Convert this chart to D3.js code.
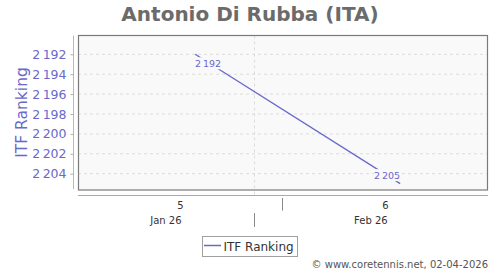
<!DOCTYPE html>
<html><head><meta charset="utf-8">
<script src="https://cdn.jsdelivr.net/npm/d3@7"></script>
<style>
html,body{margin:0;padding:0;background:#fff;}
svg{display:block;font-family:"DejaVu Sans",sans-serif;}
</style></head>
<body><svg id="chart" width="500" height="270"></svg>
<script>
const title = "Antonio Di Rubba (ITA)";
const seriesName = "ITF Ranking";
const dates = ["2026-01-30", "2026-02-06"];
const rankings = [2192, 2205];
const yTicks = [2192, 2194, 2196, 2198, 2200, 2202, 2204];
const weekLabels = [5, 6];
const weekStarts = ["2026-01-26", "2026-02-02", "2026-02-09"];
const monthLabels = ["Jan 26", "Feb 26"];
const monthStarts = ["2026-01-26", "2026-02-01", "2026-02-09"];
const credit = "\u00a9 www.coretennis.net, 02-04-2026";

const purple = "#6868cc";
const svg = d3.select("#chart");
const L = 78, R = 488, T = 35.5, B = 190;
const parse = d3.utcParse("%Y-%m-%d");
const x = d3.scaleUtc().domain([parse(weekStarts[0]), parse(weekStarts[2])]).range([L, R]);
const y = d3.scaleLinear().domain([2192, 2204]).range([54.3, 173.7]);
const fmt = d3.formatLocale({decimal: ".", thousands: "\u2009", grouping: [3], currency: ["", ""]}).format(",d");

// title
svg.append("text").attr("x", 250).attr("y", 20.5).attr("text-anchor", "middle")
  .attr("font-size", 20).attr("font-weight", "bold").attr("fill", "#6b6b6b").text(title);

// plot background
svg.append("rect").attr("x", L).attr("y", T).attr("width", R - L).attr("height", B - T).attr("fill", "#f9f9f9");

// horizontal grid
svg.append("g").selectAll("line").data(yTicks).join("line")
  .attr("x1", L).attr("x2", R).attr("y1", d => y(d)).attr("y2", d => y(d))
  .attr("stroke", "#dcdcdc").attr("stroke-dasharray", "3,3");

// vertical grid at month boundary
svg.append("g").selectAll("line").data(monthStarts.slice(1, -1)).join("line")
  .attr("x1", d => Math.round(x(parse(d))) + 0.5).attr("x2", d => Math.round(x(parse(d))) + 0.5)
  .attr("y1", T).attr("y2", 197).attr("stroke", "#dcdcdc").attr("stroke-dasharray", "3,3");

// frame
svg.append("rect").attr("x", L + 0.5).attr("y", T).attr("width", R - L - 1).attr("height", B - T)
  .attr("fill", "none").attr("stroke", "#7a7a7a").attr("stroke-width", 1.2);

// y axis
const yAxis = d3.axisLeft(y).tickValues(yTicks).tickFormat(fmt).tickSize(3).tickPadding(4);
const gy = svg.append("g").attr("transform", "translate(73.5,0)").call(yAxis);
gy.select(".domain").remove();
gy.append("line").attr("x1", 0).attr("x2", 0).attr("y1", T).attr("y2", 189).attr("stroke", "#b4b4e4");
gy.selectAll(".tick line").attr("stroke", "#aaa");
gy.selectAll(".tick text").attr("fill", purple).attr("font-size", 12.5).attr("font-family", "DejaVu Sans");

// y title
svg.append("text").attr("transform", "translate(26.5,112.5) rotate(-90)").attr("text-anchor", "middle")
  .attr("font-size", 15.5).attr("fill", purple).text(seriesName);

// x axis base line
svg.append("line").attr("x1", L).attr("x2", R).attr("y1", 195.5).attr("y2", 195.5).attr("stroke", "#aaa");

// week ticks and labels
svg.append("g").selectAll("line").data(weekStarts.slice(1, -1)).join("line")
  .attr("x1", d => Math.round(x(parse(d))) - 0.5).attr("x2", d => Math.round(x(parse(d))) - 0.5)
  .attr("y1", 198).attr("y2", 210.5).attr("stroke", "#888");
svg.append("g").selectAll("text").data(weekLabels).join("text")
  .attr("x", (d, i) => (x(parse(weekStarts[i])) + x(parse(weekStarts[i + 1]))) / 2)
  .attr("y", 208.5).attr("text-anchor", "middle").attr("font-size", 10).attr("fill", "#333").text(d => d);

// month separators and labels
svg.append("g").selectAll("line").data(monthStarts.slice(1, -1)).join("line")
  .attr("x1", d => Math.round(x(parse(d))) + 0.5).attr("x2", d => Math.round(x(parse(d))) + 0.5)
  .attr("y1", 213).attr("y2", 227).attr("stroke", "#888");
svg.append("g").selectAll("text").data(monthLabels).join("text")
  .attr("x", (d, i) => (x(parse(monthStarts[i])) + x(parse(monthStarts[i + 1]))) / 2)
  .attr("y", 223.5).attr("text-anchor", "middle").attr("font-size", 10).attr("fill", "#333").text(d => d);

// series line
const pts = dates.map((d, i) => [x(parse(d)), y(rankings[i])]);
svg.append("path").attr("d", d3.line()(pts)).attr("fill", "none").attr("stroke", purple).attr("stroke-width", 1.3);

// data labels
const offs = [[13, 9], [-13, -8.5]];
const lg = svg.append("g");
pts.forEach((p, i) => {
  const cx = p[0] + offs[i][0], cy = p[1] + offs[i][1];
  lg.append("rect").attr("x", cx - 13).attr("y", cy - 6).attr("width", 26).attr("height", 12).attr("fill", "#f9f9f9");
  lg.append("text").attr("x", cx).attr("y", cy + 3.5).attr("text-anchor", "middle")
    .attr("font-size", 9.5).attr("fill", purple).text(fmt(rankings[i]));
});

// legend
svg.append("rect").attr("x", 202.5).attr("y", 236.5).attr("width", 95).attr("height", 20)
  .attr("fill", "#fff").attr("stroke", "#a0a0a0");
svg.append("line").attr("x1", 204).attr("x2", 221).attr("y1", 245.5).attr("y2", 245.5).attr("stroke", purple).attr("stroke-width", 1.5);
svg.append("text").attr("x", 223.5).attr("y", 250.5).attr("font-size", 12).attr("fill", "#333").text(seriesName);

// credit
svg.append("text").attr("x", 488).attr("y", 267.5).attr("text-anchor", "end").attr("font-size", 10)
  .attr("fill", "#555").text(credit);
</script></body></html>
